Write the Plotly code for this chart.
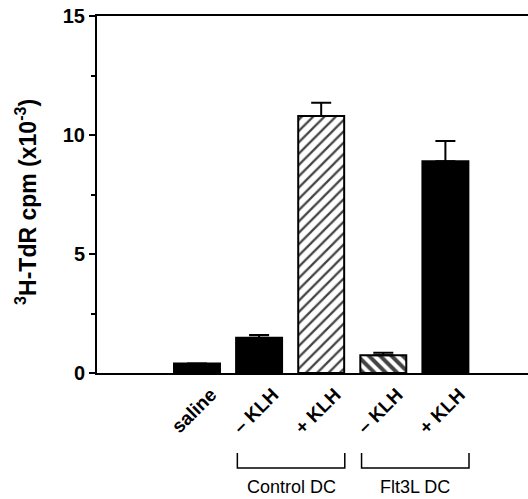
import plotly.graph_objects as go

# ---- data ----
categories = ["saline", "– KLH", "+ KLH", "– KLH", "+ KLH"]
values = [0.40, 1.48, 10.8, 0.75, 8.9]
errors = [0.0, 0.12, 0.55, 0.10, 0.85]
patterns = ["", "", "/", "\\", ""]
fills = ["black", "black", "white", "white", "black"]
groups = [("Control DC", [1, 2]), ("Flt3L DC", [3, 4])]
y_ticks = [0, 5, 10, 15]

FONT = "Liberation Sans, Arial, sans-serif"
xpos = list(range(len(categories)))

fig = go.Figure()
fig.add_trace(go.Bar(
    x=xpos, y=values, width=0.74,
    marker=dict(
        color=fills,
        line=dict(color="black", width=2),
        pattern=dict(shape=patterns, fgcolor="black", bgcolor="white", fgopacity=1,
                     size=[8, 8, 8, 8, 8], solidity=[0.3, 0.3, 0.28, 0.5, 0.3],
                     fillmode="overlay"),
    ),
    error_y=dict(type="data", array=errors, arrayminus=[0] * len(errors),
                 symmetric=False, color="black", thickness=2, width=10),
    hoverinfo="skip",
))

shapes = []
annotations = []
for name, members in groups:
    x0 = min(members) - 0.35
    x1 = max(members) + 0.38
    shapes.append(dict(type="path", xref="x", yref="paper",
                       path=f"M {x0},-0.224 L {x0},-0.266 L {x1},-0.266 L {x1},-0.224",
                       line=dict(color="black", width=1.5)))
    annotations.append(dict(text=name, xref="x", yref="paper", x=(x0 + x1) / 2, y=-0.318,
                            showarrow=False, xanchor="center", yanchor="middle",
                            font=dict(family=FONT, size=18, color="black")))

annotations.append(dict(text="<sup>3</sup>H-TdR cpm (x10<sup>-3</sup>)", xref="paper", yref="paper",
                        x=-0.165, y=0.479, textangle=-90, showarrow=False,
                        xanchor="center", yanchor="middle",
                        font=dict(family=FONT, size=23, color="black", weight="bold")))

fig.update_layout(
    width=528, height=499,
    margin=dict(l=97, r=0, t=16, b=126),
    paper_bgcolor="white", plot_bgcolor="white",
    showlegend=False,
    shapes=shapes, annotations=annotations,
    font=dict(family=FONT, color="black"),
)
fig.update_xaxes(
    range=[-1.61, 5.33], tickvals=xpos, ticktext=categories, tickangle=-45,
    ticks="", showline=True, linecolor="black", linewidth=2, mirror=True,
    showgrid=False, zeroline=False, automargin=False,
    tickfont=dict(family=FONT, size=19, color="black", weight="bold"),
    ticklabelshift=14, ticklabelstandoff=1,
)
fig.update_yaxes(
    range=[0, 15], tickvals=y_ticks, ticks="outside", ticklen=6, tickwidth=2,
    tickcolor="black", showline=True, linecolor="black", linewidth=2,
    showgrid=False, zeroline=False, automargin=False,
    tickfont=dict(family=FONT, size=20, color="black", weight="bold"),
    minor=dict(tickvals=[2.5, 7.5, 12.5], ticks="outside", ticklen=4, tickwidth=1.5, tickcolor="black"),
)

fig.write_html("out.html")
